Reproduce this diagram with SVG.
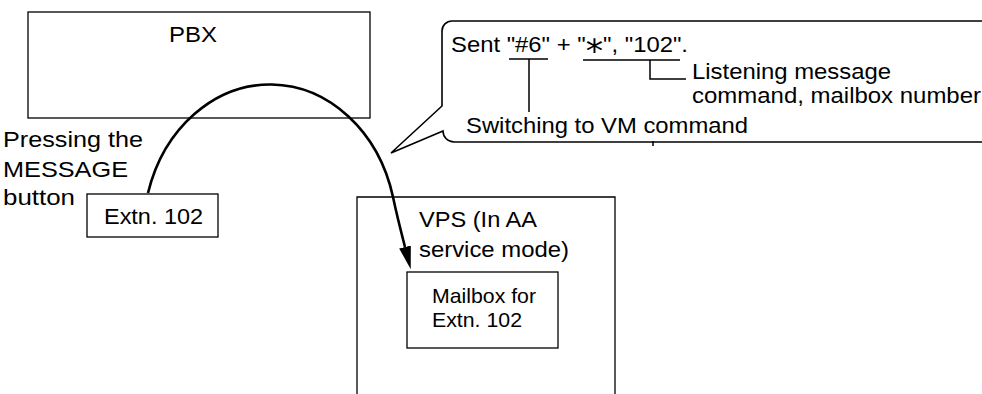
<svg xmlns="http://www.w3.org/2000/svg" width="982" height="394" viewBox="0 0 982 394">
<style>
.box{fill:#fff;stroke:#000;stroke-width:1.3}
.t{font-family:"Liberation Sans",Arial,sans-serif;font-size:22px;fill:#000}
.ln{fill:none;stroke:#000;stroke-width:1.5}
</style>
<defs>
<marker id="ah" viewBox="0 0 23 12" refX="0" refY="6" markerWidth="23" markerHeight="12" markerUnits="userSpaceOnUse" orient="auto">
<path d="M0,0 L23,6 L0,12 Z" fill="#000"/>
</marker>
</defs>
<rect width="982" height="394" fill="#fff"/>
<g id="pbx">
<rect class="box" x="28" y="12" width="342" height="106"/>
<text class="t" x="169" y="42" textLength="48" lengthAdjust="spacingAndGlyphs">PBX</text>
</g>
<g id="press-label">
<text class="t" x="3" y="147" textLength="140" lengthAdjust="spacingAndGlyphs">Pressing the</text>
<text class="t" x="3" y="177" textLength="125" lengthAdjust="spacingAndGlyphs">MESSAGE</text>
<text class="t" x="3" y="205" textLength="72" lengthAdjust="spacingAndGlyphs">button</text>
</g>
<g id="extn">
<rect class="box" x="87" y="194" width="131" height="43"/>
<text class="t" x="104" y="224" textLength="99" lengthAdjust="spacingAndGlyphs">Extn. 102</text>
</g>
<g id="vps">
<path class="box" d="M357,400 V197 H615 V400"/>
<text class="t" x="419" y="227" textLength="118" lengthAdjust="spacingAndGlyphs">VPS (In AA</text>
<text class="t" x="419" y="257" textLength="150" lengthAdjust="spacingAndGlyphs">service mode)</text>
</g>
<g id="mailbox">
<rect class="box" x="407" y="272" width="151" height="76"/>
<text class="t" x="432" y="303" textLength="104" lengthAdjust="spacingAndGlyphs" style="font-size:21px">Mailbox for</text>
<text class="t" x="432" y="327" textLength="90" lengthAdjust="spacingAndGlyphs" style="font-size:21px">Extn. 102</text>
</g>
<g id="callout">
<path d="M442,106 V31 A10,10 0 0 1 452,21 H990 V142 H454 A11,11 0 0 1 443,131 L391,153 Z" fill="#fff" stroke="#000" stroke-width="1.6" stroke-linejoin="miter"/>
<text class="t" x="451" y="52" textLength="237" lengthAdjust="spacingAndGlyphs">Sent "#6" + "<tspan style="font-family:'DejaVu Sans',sans-serif;font-size:32px">⁎</tspan>", "102".</text>
<text class="t" x="692" y="79" textLength="199" lengthAdjust="spacingAndGlyphs">Listening message</text>
<text class="t" x="692" y="103" textLength="289" lengthAdjust="spacingAndGlyphs">command, mailbox number</text>
<text class="t" x="466" y="133" textLength="282" lengthAdjust="spacingAndGlyphs">Switching to VM command</text>
<path class="ln" d="M509,59 H548 M529,59 V112 M583,60 H680 M650,60 V79 H686 M653,141 V146"/>
</g>
<g id="connectors">
<path d="M148,193 A127,150 0 0 1 393,197 Q397,216 405,247" fill="none" stroke="#000" stroke-width="2.6" marker-end="url(#ah)"/>
</g>
</svg>
